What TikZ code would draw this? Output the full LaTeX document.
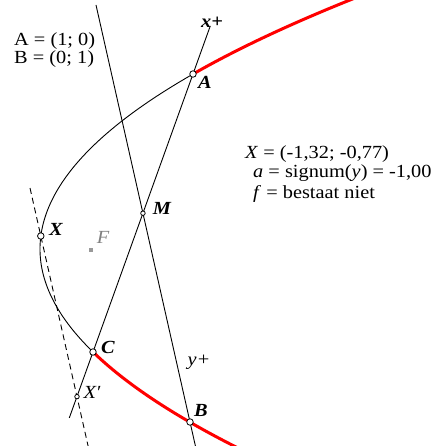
\documentclass[tikz,border=0pt]{standalone}
\usepackage{fontspec}
\setmainfont{Liberation Serif}[FakeStretch=1.1]
\usetikzlibrary{calc}
\begin{document}
\begin{tikzpicture}[x=1pt,y=-1pt,
  axisline/.style={line width=0.9pt},
  conic/.style={line width=0.9pt},
  redarc/.style={line width=3pt, red},
  proj/.style={line width=0.9pt, dash pattern=on 6pt off 4pt},
  pt/.style={circle, draw, fill=white, inner sep=0pt, minimum size=6.5pt, line width=0.8pt},
  spt/.style={pt, minimum size=4.5pt},
  lbl/.style={font=\fontsize{18.5}{20}\selectfont\bfseries\itshape, inner sep=0pt},
  ilbl/.style={font=\fontsize{18.5}{20}\selectfont\itshape, inner sep=0pt},
  txt/.style={font=\fontsize{18.5}{20}\selectfont, anchor=base west, inner sep=0pt}]
\useasboundingbox (0,0) rectangle (434,446);
\coordinate (A) at (193,74);
\coordinate (C) at (93,352);
\coordinate (B) at (190,422);
\coordinate (Yt) at (96,5);
\coordinate (X) at (40.8,236);
\coordinate (M) at (intersection of A--C and Yt--B);
\coordinate (Xt) at ($(X)+(-10.8,-48)$);
\coordinate (Xb) at ($(X)+(47.3,210)$);
\coordinate (Xp) at (intersection of Xt--Xb and A--C);
\coordinate (Ft) at (91,250);
\begin{scope}
\clip (0,0) rectangle (434,446);
\draw[conic] plot[domain=-175:103, samples=140] ({40+(\x/200)*\x},{249+\x});
\draw[redarc] plot[domain=-252:-175, samples=60] ({40+(\x/200)*\x},{249+\x});
\draw[redarc] plot[domain=103:200, samples=60] ({40+(\x/200)*\x},{249+\x});
\draw[axisline] ($(A)!-0.173!(C)$) -- ($(A)!1.237!(C)$);
\draw[axisline] (Yt) -- ($(Yt)!1.0576!(B)$);
\draw[proj] (Xt) -- (Xb);
\end{scope}
\fill[gray!80] ($(Ft)+(-1.6,-1.6)$) rectangle ($(Ft)+(1.6,1.6)$);
\node[pt] (nA) at (A) {};
\node[pt] (nB) at (B) {};
\node[pt] (nC) at (C) {};
\node[pt] (nX) at (X) {};
\node[spt] (nM) at (M) {};
\node[spt] (nXp) at (Xp) {};
\node[lbl] at (212,22) {x+};
\node[lbl] at (205,82) {A};
\node[lbl] at (162,208) {M};
\node[lbl] at (56,229) {X};
\node[ilbl, text=gray] at (103,237) {F};
\node[lbl] at (108,347) {C};
\node[ilbl] at (199,362) {y+};
\node[ilbl] at (92,392) {X′};
\node[lbl] at (201,410) {B};
\node[txt] at (14,46) {A = (1; 0)};
\node[txt] at (14,64) {B = (0; 1)};
\node[txt] at (245,159) {\textit{X} = (-1,32; -0,77)};
\node[txt] at (253,178) {\textit{a} = signum(\textit{y}) = -1,00};
\node[txt] at (253,198) {\textit{f} = bestaat niet};
\end{tikzpicture}
\end{document}
